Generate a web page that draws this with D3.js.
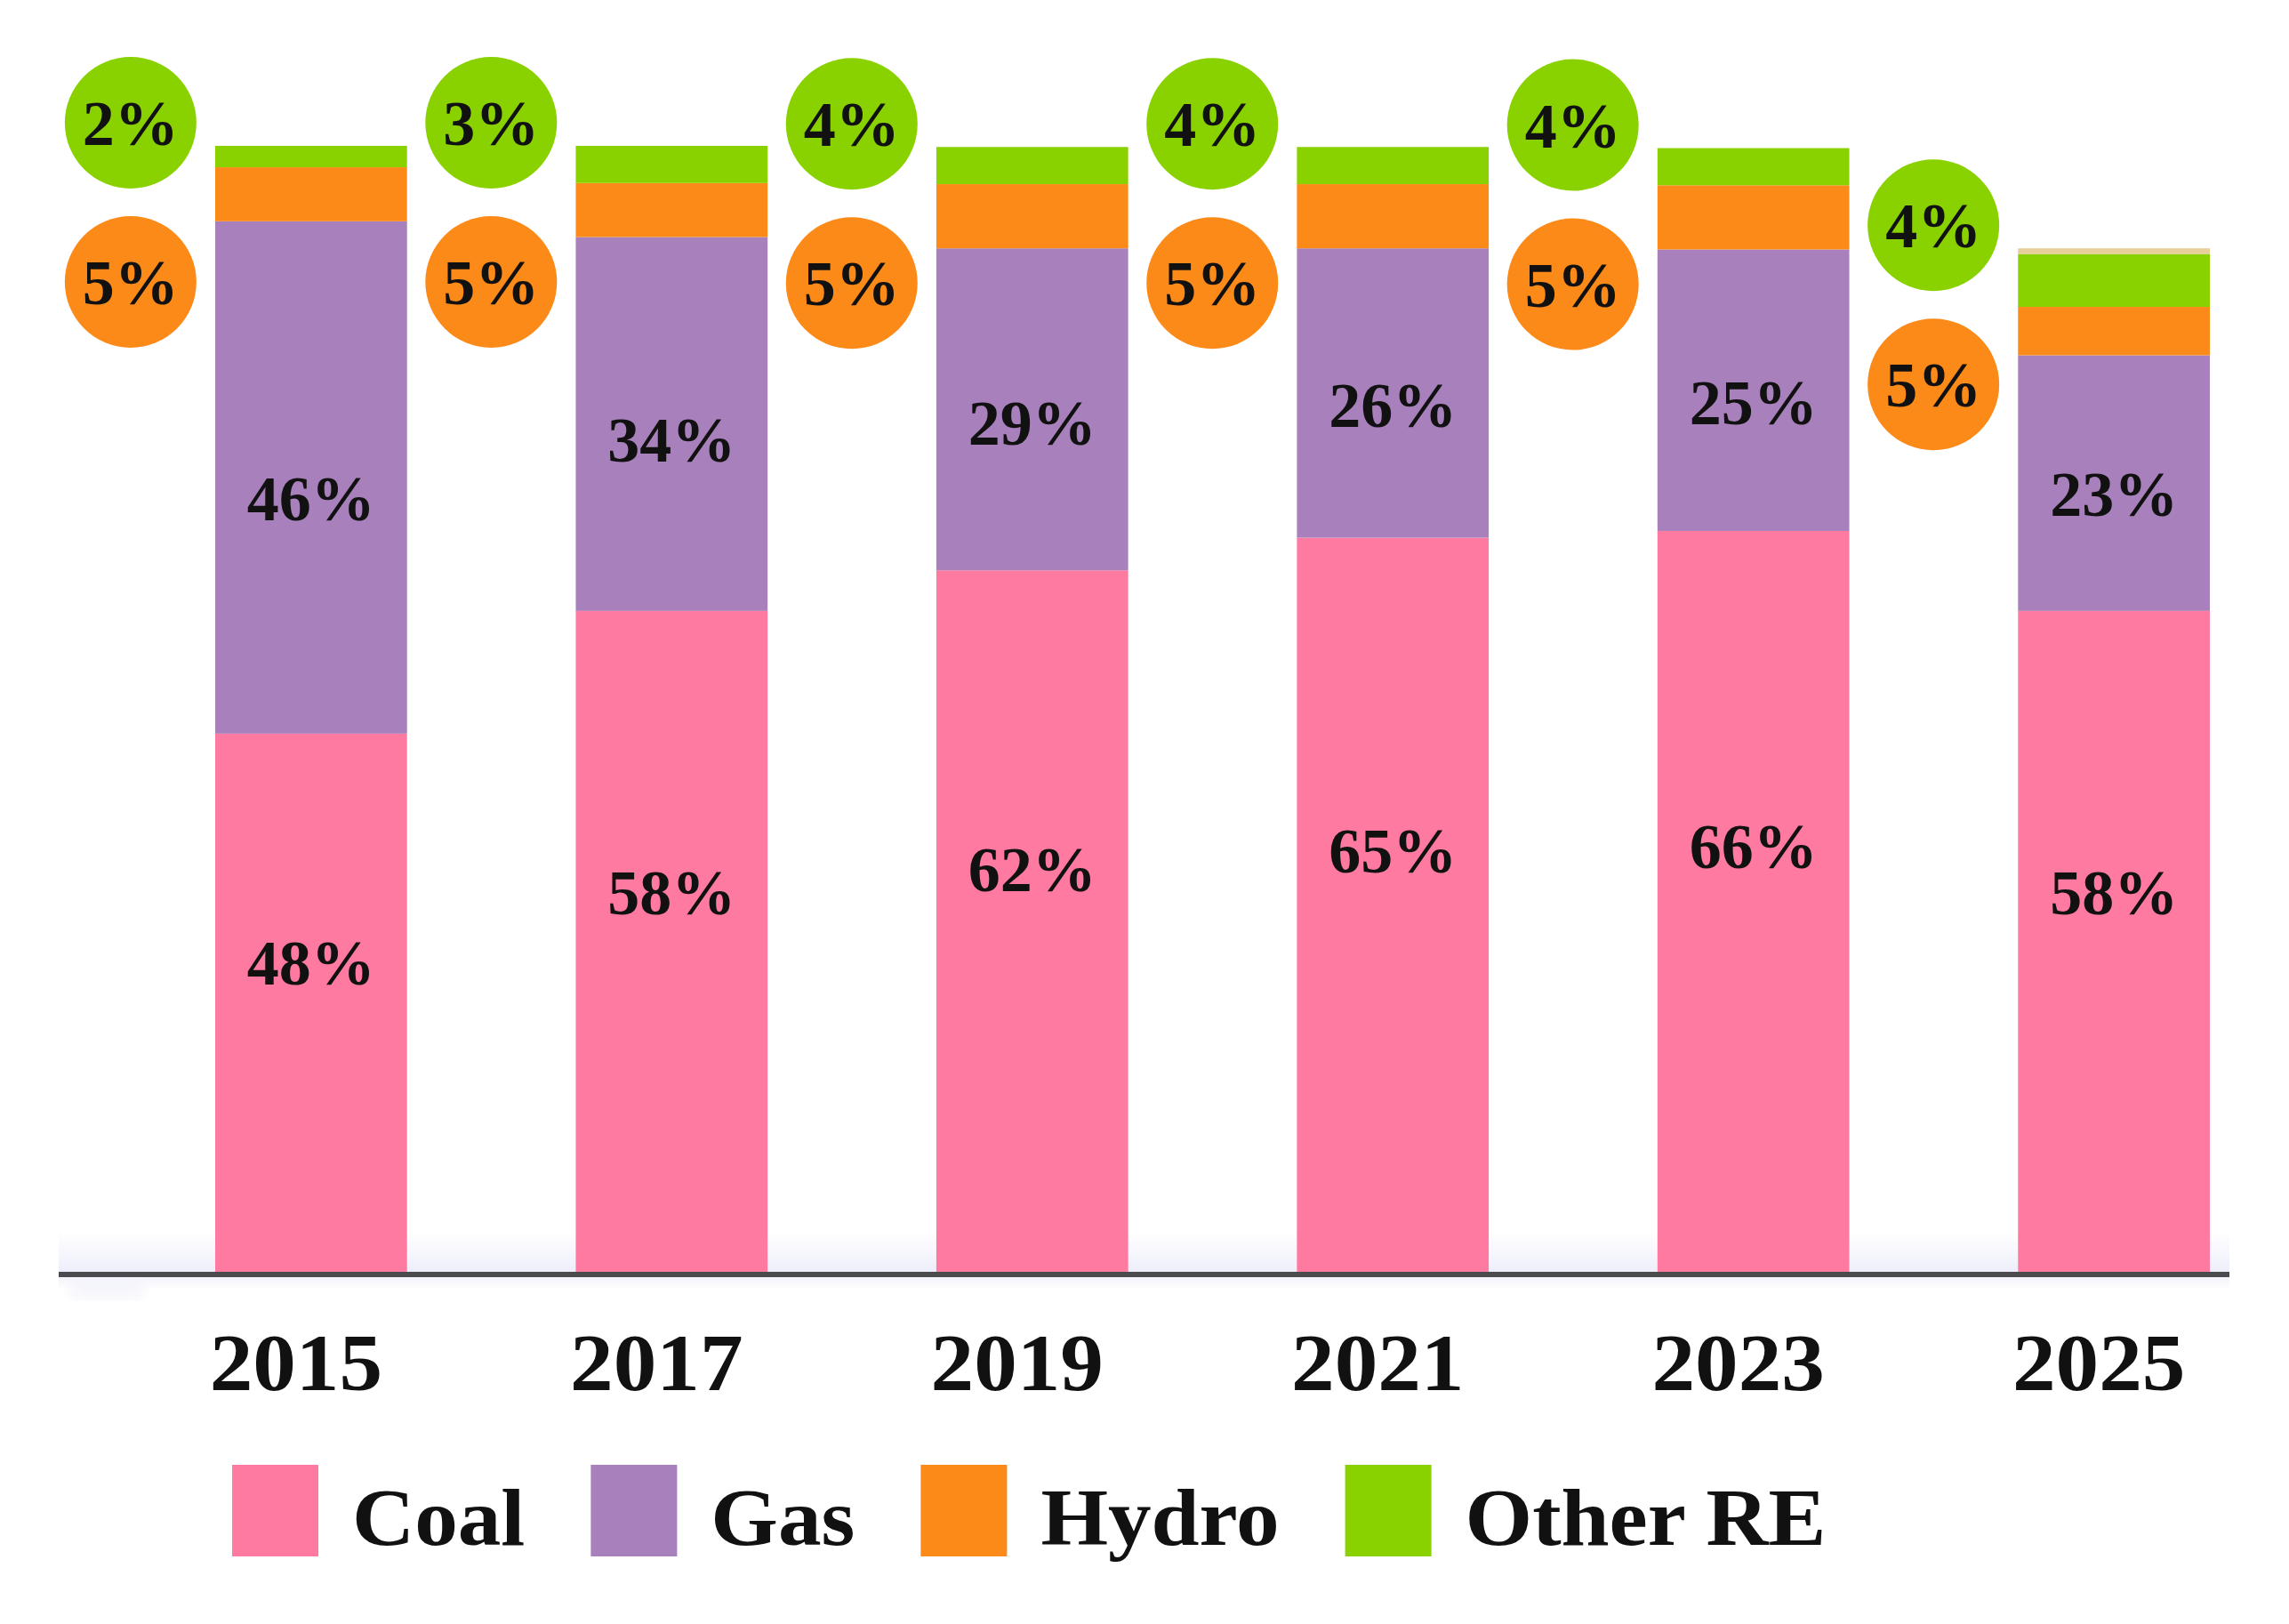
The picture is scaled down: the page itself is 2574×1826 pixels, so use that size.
<!DOCTYPE html>
<html>
<head>
<meta charset="utf-8">
<script src="https://cdn.jsdelivr.net/npm/d3@7"></script>
<style>
    body { margin: 0; background: #ffffff; }
    svg text { font-family: "Liberation Serif", "Times New Roman", serif; fill: #111111; }
</style>
</head>
<body>
<div id="chart"></div>
<script>
// Shares of each source per year
const years = ["2015", "2017", "2019", "2021", "2023", "2025"];
const coal = [47.8, 58.7, 62.3, 65.2, 65.8, 58.7];
const gas = [45.5, 33.2, 28.6, 25.7, 25.0, 22.7];
const hydro = [4.8, 4.8, 5.7, 5.7, 5.7, 4.3];
const otherRE = [1.9, 3.3, 3.3, 3.3, 3.3, 4.7];
const unlabelled = [0, 0, 0, 0, 0, 0.5];

// Printed labels
const coalLabels = ["48%", "58%", "62%", "65%", "66%", "58%"];
const gasLabels = ["46%", "34%", "29%", "26%", "25%", "23%"];
const hydroLabels = ["5%", "5%", "5%", "5%", "5%", "5%"];
const otherLabels = ["2%", "3%", "4%", "4%", "4%", "4%"];

const seriesKeys = ["Coal", "Gas", "Hydro", "Other RE", "Unlabelled"];
const seriesColors = ["#ff7aa0", "#a880bc", "#fc8a19", "#8ad100", "#e8cf9a"];
const legendKeys = ["Coal", "Gas", "Hydro", "Other RE"];

const width = 2574;
const height = 1826;
const baseY = 1430;
const topY = 164;
const stretch = 1.08;   // the original serif face runs wider than Liberation Serif

const rows = years.map((y, i) => ({
    year: y,
    "Coal": coal[i],
    "Gas": gas[i],
    "Hydro": hydro[i],
    "Other RE": otherRE[i],
    "Unlabelled": unlabelled[i]
}));

const svg = d3.select("#chart").append("svg")
    .attr("width", width)
    .attr("height", height);

const x = d3.scaleBand()
    .domain(years)
    .range([242, 2485])
    .paddingInner(0.468)
    .paddingOuter(0);

const y = d3.scaleLinear()
    .domain([0, 100])
    .range([baseY, topY]);

const color = d3.scaleOrdinal()
    .domain(seriesKeys)
    .range(seriesColors);

// soft lavender glow around the baseline
const defs = svg.append("defs");
const glowUp = defs.append("linearGradient")
    .attr("id", "glow-up")
    .attr("x1", 0).attr("y1", 0).attr("x2", 0).attr("y2", 1);
glowUp.append("stop").attr("offset", "0%").attr("stop-color", "#ffffff");
glowUp.append("stop").attr("offset", "100%").attr("stop-color", "#eeeefb");
const glowDown = defs.append("linearGradient")
    .attr("id", "glow-down")
    .attr("x1", 0).attr("y1", 0).attr("x2", 0).attr("y2", 1);
glowDown.append("stop").attr("offset", "0%").attr("stop-color", "#f3f3fb");
glowDown.append("stop").attr("offset", "100%").attr("stop-color", "#ffffff");
defs.append("filter")
    .attr("id", "soft")
    .append("feGaussianBlur")
    .attr("stdDeviation", 8);

svg.append("rect")
    .attr("x", 66).attr("y", baseY - 45)
    .attr("width", 2441).attr("height", 45)
    .attr("fill", "url(#glow-up)");
svg.append("rect")
    .attr("x", 66).attr("y", baseY + 6)
    .attr("width", 2441).attr("height", 14)
    .attr("fill", "url(#glow-down)");
svg.append("rect")
    .attr("x", 80).attr("y", baseY + 6)
    .attr("width", 80).attr("height", 24)
    .attr("fill", "#f4f4fc")
    .attr("filter", "url(#soft)");

// stacked bars
const stack = d3.stack().keys(seriesKeys);
const stacked = stack(rows);

svg.append("g")
    .selectAll("g")
    .data(stacked)
    .join("g")
        .attr("fill", d => color(d.key))
    .selectAll("rect")
    .data(d => d)
    .join("rect")
        .attr("x", d => x(d.data.year))
        .attr("y", d => y(d[1]))
        .attr("width", x.bandwidth())
        .attr("height", d => y(d[0]) - y(d[1]));

// baseline
svg.append("line")
    .attr("x1", 66)
    .attr("x2", 2507)
    .attr("y1", baseY + 3)
    .attr("y2", baseY + 3)
    .attr("stroke", "#4b4a4e")
    .attr("stroke-width", 6);

// labels inside the coal and gas segments
const coalSeries = stacked[0];
const gasSeries = stacked[1];

svg.append("g")
    .selectAll("text")
    .data(coalSeries)
    .join("text")
        .attr("x", d => x(d.data.year) + x.bandwidth() / 2)
        .attr("y", d => y(d[1]) + 0.425 * (y(d[0]) - y(d[1])))
        .attr("dy", "0.35em")
        .attr("text-anchor", "middle")
        .attr("font-size", 72)
        .attr("font-weight", "bold")
        .text((d, i) => coalLabels[i]);

svg.append("g")
    .selectAll("text")
    .data(gasSeries)
    .join("text")
        .attr("x", d => x(d.data.year) + x.bandwidth() / 2)
        .attr("y", d => y(d[1]) + 0.54 * (y(d[0]) - y(d[1])))
        .attr("dy", "0.35em")
        .attr("text-anchor", "middle")
        .attr("font-size", 72)
        .attr("font-weight", "bold")
        .text((d, i) => gasLabels[i]);

// bubbles for the small shares, left of each bar
const totals = rows.map(r => d3.sum(seriesKeys, k => r[k]));
const bubbleR = 74;

const bubbles = [
    { labels: otherLabels, fill: color("Other RE"), offset: -26 },
    { labels: hydroLabels, fill: color("Hydro"), offset: 153 }
];

for (const b of bubbles) {
    const g = svg.append("g")
        .selectAll("g")
        .data(years)
        .join("g")
            .attr("transform", (d, i) => `translate(${x(d) + x.bandwidth() / 2 - 203},${y(totals[i]) + b.offset})`);

    g.append("circle")
        .attr("r", bubbleR)
        .attr("fill", b.fill);

    g.append("text")
        .attr("text-anchor", "middle")
        .attr("dy", "0.35em")
        .attr("font-size", 72)
        .attr("font-weight", "bold")
        .text((d, i) => b.labels[i]);
}

// year labels
svg.append("g")
    .selectAll("text")
    .data(years)
    .join("text")
        .attr("transform", d => `translate(${x(d) + x.bandwidth() / 2 - 17},1563) scale(${stretch},1)`)
        .attr("text-anchor", "middle")
        .attr("font-size", 90)
        .attr("font-weight", "bold")
        .text(d => d);

// legend
const legend = svg.append("g")
    .attr("transform", "translate(261,1647)");

let cursor = 0;
for (const key of legendKeys) {
    const item = legend.append("g")
        .attr("transform", `translate(${cursor},0)`);
    item.append("rect")
        .attr("width", 97)
        .attr("height", 103)
        .attr("fill", color(key));
    const label = item.append("text")
        .attr("transform", `translate(135,90) scale(${stretch},1)`)
        .attr("font-size", 90)
        .attr("font-weight", "bold")
        .text(key);
    cursor += 135 + label.node().getComputedTextLength() * stretch + 74;
}
</script>
</body>
</html>
